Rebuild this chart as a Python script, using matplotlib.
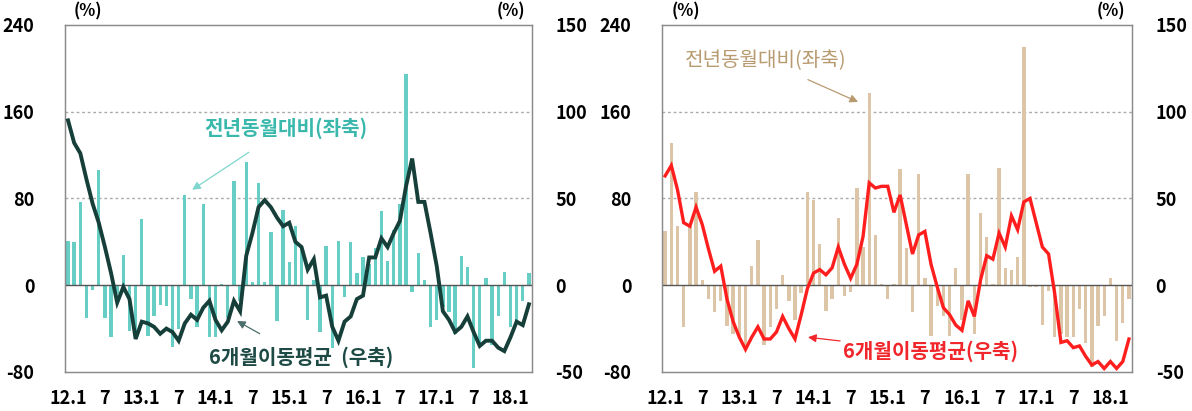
import matplotlib
matplotlib.use('Agg')
import matplotlib.pyplot as plt
import numpy as np

plt.rcParams['font.family'] = ['Noto Sans CJK KR', 'DejaVu Sans']
plt.rcParams['axes.unicode_minus'] = False

# months 12.1 .. 18.4
months = np.arange(76)
tick_pos = np.arange(0, 76, 6)
tick_labels = ['12.1', '7', '13.1', '7', '14.1', '7', '15.1', '7', '16.1', '7', '17.1', '7', '18.1']

# left panel: yoy (left axis), 6m moving avg (right axis)
yoy_a = [41, 40, 77, -30, -4, 106, -30, -48, -8, 28, -42, -42, 61, -47, -28, -18, -19, -57, -40, 83,
         -13, -39, 75, -48, -48, 1, -30, 96, -15, 114, 3, 94, 3, 49, -33, 69, 21, 55, 34, -32,
         5, -43, 36, -58, 41, -11, 40, 11, 26, 20, 34, 68, 22, 51, 75, 195, -6, 30, 5, -39,
         -32, -20, -25, -45, 27, 17, -76, -55, 7, -55, -28, 12, -39, -36, -15, 11]
ma_a = [95, 82, 76, 61, 47, 36, 22, 7, -10, -1, -8, -31, -21, -22, -24, -28, -25, -27, -32, -22,
        -17, -20, -13, -9, -20, -26, -21, -9, -15, 17, 30, 45, 49, 45, 39, 34, 36, 25, 22, 9,
        15, -7, -6, -24, -32, -21, -18, -8, -6, 16, 16, 27, 22, 30, 37, 57, 73, 48, 48, 30,
        11, -15, -20, -27, -24, -18, -27, -35, -32, -32, -36, -38, -30, -21, -23, -11]

# right panel
yoy_b = [50, 131, 55, -39, 54, 86, 5, -13, -25, -15, -38, -45, -47, -56, 18, 42, -55, -39, -22, 9,
         -15, -32, -7, 86, 79, 38, -24, -13, 62, -10, -6, 90, 35, 177, 46, 1, -13, 1, 107, 34,
         -25, 103, 7, -47, -19, -28, -47, 16, -32, 103, -45, 67, 44, 1, 108, 16, 14, 26, 220, -2,
         -2, -37, -5, -48, -45, -48, -48, -22, -53, -75, -38, -28, 7, -51, -35, -13]
ma_b = [63, 69, 55, 36, 34, 45, 35, 21, 8, 11, -8, -21, -30, -37, -30, -24, -31, -31, -27, -18,
        -25, -31, -17, -2, 7, 9, 6, 10, 22, 12, 4, 12, 28, 59, 56, 57, 57, 42, 52, 35,
        18, 29, 31, 12, -1, -13, -17, -23, -26, -9, -18, 3, 17, 15, 30, 22, 40, 32, 48, 50,
        36, 22, 18, -5, -33, -32, -36, -35, -41, -46, -44, -48, -44, -48, -44, -31]

fig = plt.figure(figsize=(11.92, 4.11), dpi=100)


def panel(rect, yoy, ma, bar_color, line_color, lw):
    ax = fig.add_axes(rect)
    ax.bar(months, yoy, width=0.55, color=bar_color, zorder=2)
    ax.axhline(0, color='#555555', lw=1, zorder=3)
    for g in (80, 160):
        ax.axhline(g, color='#aaaaaa', lw=1, ls=(0, (2, 2)), zorder=1)
    ax.set_xlim(-0.5, 75.5)
    ax.set_ylim(-80, 240)
    ax.set_yticks([-80, 0, 80, 160, 240])
    ax.set_xticks(tick_pos)
    ax.set_xticklabels(tick_labels)
    ax.tick_params(axis='x', length=0, pad=12, labelsize=13)
    ax.tick_params(axis='y', length=0, pad=22, labelsize=13)
    for lab in ax.get_xticklabels() + ax.get_yticklabels():
        lab.set_fontweight('bold')
    for s in ax.spines.values():
        s.set_color('#8c8c8c')
        s.set_linewidth(1)
    ax2 = ax.twinx()
    ax2.plot(months, ma, color=line_color, lw=lw, zorder=4, solid_joinstyle='miter')
    ax2.set_ylim(-50, 150)
    ax2.set_yticks([-50, 0, 50, 100, 150])
    ax2.tick_params(axis='y', length=0, pad=17, labelsize=13)
    for lab in ax2.get_yticklabels():
        lab.set_fontweight('bold')
    for s in ax2.spines.values():
        s.set_color('#8c8c8c')
    ax.text(0.05, 1.012, '(%)', transform=ax.transAxes, ha='center', va='bottom',
            fontsize=12, fontweight='bold')
    ax.text(0.955, 1.012, '(%)', transform=ax.transAxes, ha='center', va='bottom',
            fontsize=12, fontweight='bold')
    return ax, ax2


axA, axA2 = panel([0.0545, 0.095, 0.3918, 0.8443], yoy_a, ma_a, '#66CEC4', '#173F3A', 2.8)
axB, axB2 = panel([0.5554, 0.095, 0.3943, 0.8443], yoy_b, ma_b, '#DDC5A7', '#FF1E1E', 2.4)

# annotations, left panel
axA.annotate('전년동월대비(좌축)', xy=(20.2, 88), xytext=(35.4, 145), color='#3AB8AC',
             fontsize=14.5, fontweight='bold', ha='center', va='center',
             arrowprops=dict(arrowstyle='-|>', color='#7FD6CE', lw=0.9, shrinkA=14, shrinkB=0,
                             mutation_scale=12))
axA.annotate('6개월이동평균  (우축)', xy=(27.5, -33), xytext=(37.9, -66), color='#1D4A45',
             fontsize=14.5, fontweight='bold', ha='center', va='center',
             arrowprops=dict(arrowstyle='-|>', color='#4d6f6c', lw=0.9, shrinkA=14, shrinkB=0,
                             mutation_scale=12))

# annotations, right panel
axB.annotate('전년동월대비(좌축)', xy=(31.2, 169), xytext=(16.2, 207), color='#B89A70',
             fontsize=14.5, ha='center', va='center',
             arrowprops=dict(arrowstyle='-|>', color='#B89A70', lw=0.9, shrinkA=10, shrinkB=0,
                             mutation_scale=12))
axB.annotate('6개월이동평균(우축)', xy=(23.1, -48), xytext=(42.9, -61), color='#F0262B',
             fontsize=14.5, fontweight='bold', ha='center', va='center',
             arrowprops=dict(arrowstyle='-|>', color='#F0262B', lw=0.9, shrinkA=75, shrinkB=0,
                             mutation_scale=12))

fig.savefig('out.png', dpi=100)
